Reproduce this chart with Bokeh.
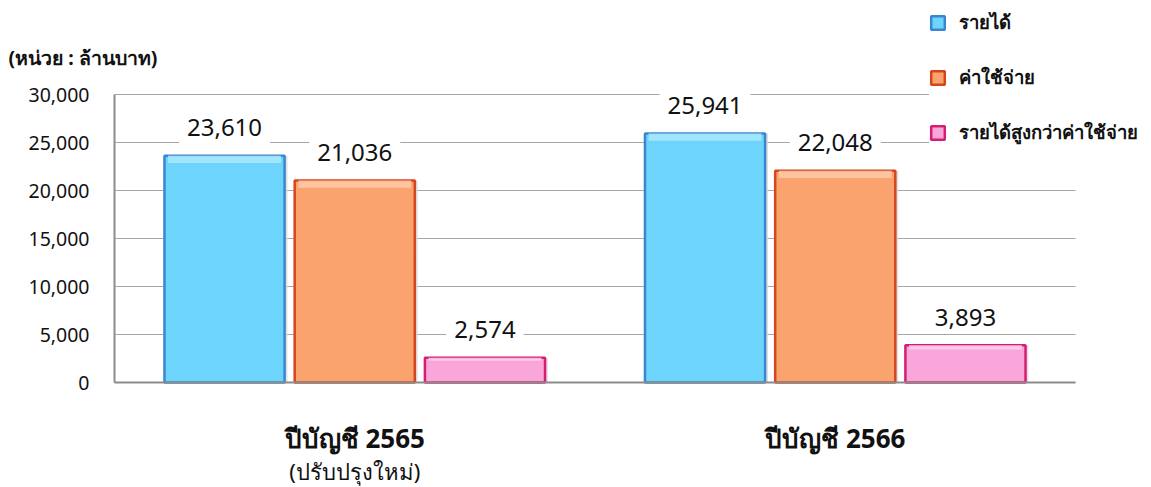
from bokeh.plotting import figure
from bokeh.models import (Range1d, NumeralTickFormatter, Label, Legend, LegendItem,
                          ColumnDataSource, FixedTicker, LinearAxis, Grid)
from bokeh.core.properties import value
from bokeh.embed import file_html
from bokeh.resources import INLINE

# ---- data ----
years = ["ปีบัญชี 2565", "ปีบัญชี 2566"]
year_notes = ["(ปรับปรุงใหม่)", ""]
series_names = ["รายได้", "ค่าใช้จ่าย", "รายได้สูงกว่าค่าใช้จ่าย"]
revenue = [23610, 25941]
expense = [21036, 22048]
surplus = [2574, 3893]
y_ticks = [0, 5000, 10000, 15000, 20000, 25000, 30000]
unit_text = "(หน่วย : ล้านบาท)"

FONT = "Noto Sans"
W, H = 1150, 486
fills = ["#6dd4fc", "#fba36e", "#f9a7da"]
borders = ["#3a86d0", "#d4461c", "#d81c74"]
tops = ["#a6e8fd", "#fdc8a4", "#fccdea"]
offsets = [-0.271, 0.0, 0.271]
BW = 0.25

# plot area in pixels: x data -0.5..1.5 -> px 114..1075 ; y 0..30000 -> px 382..94
px_per_x = (1075 - 114) / 2.0
px_per_y = (382 - 94) / 30000.0
x_start = -0.5 - 114 / px_per_x
x_end = 1.5 + (W - 1075) / px_per_x
y_end = 30000 + 94 / px_per_y
y_start = -(H - 382) / px_per_y

p = figure(width=W, height=H, output_backend="svg", toolbar_location=None,
           x_range=Range1d(x_start, x_end), y_range=Range1d(y_start, y_end),
           x_axis_type=None, y_axis_type=None, min_border=0)
p.outline_line_color = None
p.background_fill_color = "white"
p.border_fill_color = "white"

# y axis at the plot-area's left edge
yaxis = LinearAxis(fixed_location=-0.5, bounds=(0, 30000),
                   ticker=FixedTicker(ticks=y_ticks),
                   formatter=NumeralTickFormatter(format="0,0"))
yaxis.major_tick_line_color = None
yaxis.minor_tick_line_color = None
yaxis.axis_line_color = "#8c8c8c"
yaxis.axis_line_width = 2
yaxis.major_label_standoff = 19
yaxis.major_label_text_font = FONT
yaxis.major_label_text_font_size = "19.5px"
yaxis.major_label_text_color = "#111111"
p.add_layout(yaxis, "left")

grid = Grid(dimension=1, ticker=yaxis.ticker, cross_bounds=(-0.5, 1.5),
            grid_line_color="#a6a6a6", grid_line_width=1.2)
p.add_layout(grid)

all_vals = [revenue, expense, surplus]
legend_items = []
for i, vals in enumerate(all_vals):
    xs = [k + offsets[i] for k in range(len(years))]
    src = ColumnDataSource(dict(x=xs, top=vals,
                                shadow_x=[x + 0.006 for x in xs],
                                bevel_bottom=[v - min(750, v * 0.12) for v in vals],
                                lab=[f"{v:,}" for v in vals]))
    p.vbar(x="shadow_x", top="top", width=BW, source=src, fill_color="#d9d9d9",
           line_color=None, fill_alpha=0.8)
    r = p.vbar(x="x", top="top", width=BW, source=src, fill_color=fills[i],
               line_color=borders[i], line_width=2.5)
    p.vbar(x="x", top="top", bottom="bevel_bottom", width=BW * 0.94, source=src,
           fill_color=tops[i], line_color=None, fill_alpha=0.9)
    legend_items.append(LegendItem(label=series_names[i], renderers=[r]))
    p.text(x="x", y="top", text="lab", source=src, y_offset=-28,
           text_align="center", text_baseline="middle",
           text_font=value(FONT), text_font_size="24px", text_color="#111111",
           background_fill_color="white", padding=8)

# x axis line at y = 0
xaxis = LinearAxis(fixed_location=0, bounds=(-0.5, 1.5), ticker=FixedTicker(ticks=[]))
xaxis.axis_line_color = "#8c8c8c"
xaxis.axis_line_width = 2
xaxis.major_tick_line_color = None
xaxis.minor_tick_line_color = None
xaxis.major_label_text_font_size = "0px"
p.add_layout(xaxis, "below")

# category labels
for k, (yr, note) in enumerate(zip(years, year_notes)):
    p.add_layout(Label(x=k, y=0, y_offset=-55, text=yr, text_align="center",
                       text_baseline="middle", text_font=FONT, text_font_size="26px",
                       text_font_style="bold", text_color="#111111"))
    if note:
        p.add_layout(Label(x=k, y=0, y_offset=-88, text=note, text_align="center",
                           text_baseline="middle", text_font=FONT,
                           text_font_size="22px", text_color="#111111"))

# unit label
p.add_layout(Label(x=-0.5, y=30000, x_offset=-106, y_offset=37, text=unit_text,
                   text_align="left", text_baseline="middle", text_font=FONT,
                   text_font_size="19.5px", text_font_style="bold",
                   text_color="#111111"))

legend = Legend(items=legend_items, location=(929, H - 147), orientation="vertical",
                glyph_width=17, glyph_height=17, label_height=30,
                label_standoff=13, spacing=25, padding=4, margin=0,
                border_line_color=None, background_fill_color="white",
                background_fill_alpha=1.0,
                label_text_font=FONT, label_text_font_size="18.5px",
                label_text_font_style="bold", label_text_color="#111111")
p.add_layout(legend, "center")

open("out.html", "w").write(file_html(p, INLINE))
